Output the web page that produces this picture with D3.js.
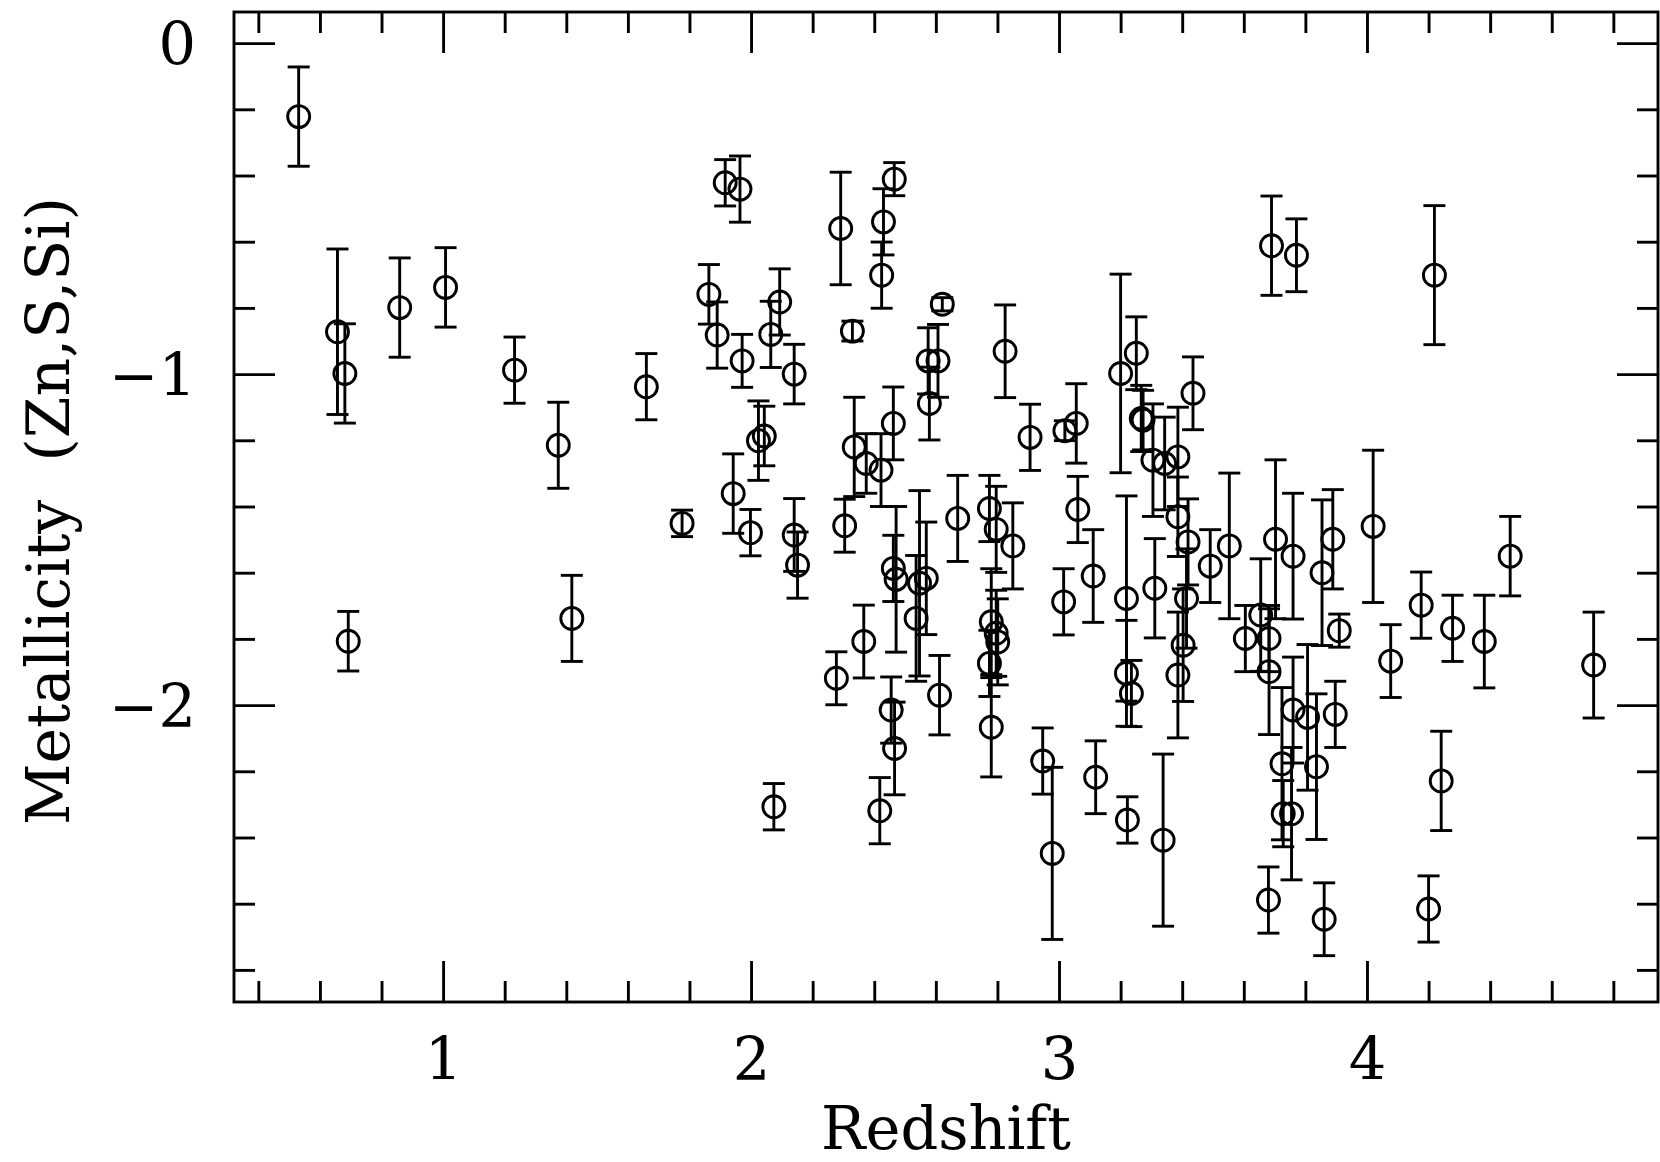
<!DOCTYPE html>
<html>
<head>
<meta charset="utf-8">
<script src="https://cdn.jsdelivr.net/npm/d3@7"></script>
<style>
  body { margin: 0; background: #fff; }
  svg { display: block; }
</style>
</head>
<body>
<div id="scatter"></div>
<script>
// Frame for the plot
var svgWidth = 1660;
var svgHeight = 1162;

var margin = { top: 12, right: 2, bottom: 160, left: 234 };
var width = svgWidth - margin.left - margin.right;
var height = svgHeight - margin.top - margin.bottom;

// Data: redshift, metallicity and its 1-sigma error
var redshift = [
  0.531, 0.657, 0.681, 0.692, 0.859, 1.008, 1.232, 1.374, 1.418, 1.660,
  1.776, 1.863, 1.890, 1.916, 1.964, 1.971, 1.942, 1.998, 2.024, 2.043,
  2.093, 2.064, 2.140, 2.140, 2.151, 2.074, 2.277, 2.291, 2.304, 2.329,
  2.335, 2.374, 2.422, 2.462, 2.366, 2.465, 2.430, 2.424, 2.418, 2.462,
  2.471, 2.455, 2.466, 2.547, 2.569, 2.536, 2.575, 2.607, 2.579, 2.621,
  2.612, 2.671, 2.774, 2.796, 2.780, 2.796, 2.801, 2.774, 2.780, 2.825,
  2.850, 2.906, 2.947, 2.978, 3.019, 3.056, 3.015, 3.061, 3.111, 3.119,
  3.200, 3.219, 3.219, 3.235, 3.222, 3.251, 3.267, 3.273, 3.305, 3.343,
  3.386, 3.338, 3.311, 3.386, 3.419, 3.414, 3.403, 3.386, 3.435, 3.491,
  3.553, 3.605, 3.703, 3.760, 3.889, 3.854, 3.655, 3.682, 3.682, 3.760,
  3.807, 3.897, 3.910, 3.724, 3.836, 3.728, 3.755, 3.680, 3.861, 3.690,
  3.771, 4.020, 4.077, 4.176, 4.278, 4.381, 4.465, 4.736, 4.219, 4.200,
  4.241
];
var metallicity = [
  -0.222, -0.872, -0.998, -1.807, -0.799, -0.738, -0.988, -1.215, -1.738, -1.038,
  -1.451, -0.759, -0.882, -0.422, -0.441, -0.960, -1.361, -1.479, -1.201, -1.187,
  -0.782, -0.880, -1.000, -1.486, -1.577, -2.307, -1.919, -0.560, -1.458, -0.870,
  -1.220, -1.270, -1.290, -1.149, -1.808, -0.411, -0.540, -0.701, -2.319, -1.587,
  -1.620, -2.015, -2.131, -1.632, -1.617, -1.738, -0.960, -0.960, -1.089, -0.789,
  -1.970, -1.436, -1.406, -1.469, -1.748, -1.783, -1.809, -1.874, -2.067, -0.931,
  -1.519, -1.191, -2.169, -2.448, -1.171, -1.149, -1.688, -1.409, -1.610, -2.218,
  -0.998, -1.678, -1.904, -1.965, -2.347, -0.937, -1.134, -1.139, -1.260, -1.270,
  -1.250, -2.408, -1.647, -1.431, -1.507, -1.678, -1.819, -1.909, -1.058, -1.580,
  -1.519, -1.799, -1.499, -1.550, -1.499, -1.600, -1.728, -1.799, -1.899, -2.015,
  -2.037, -2.028, -1.775, -2.177, -2.186, -2.328, -2.328, -2.589, -2.647, -0.612,
  -0.641, -1.460, -1.867, -1.698, -1.768, -1.808, -1.550, -1.879, -0.701, -2.616,
  -2.229
];
var metalErr = [
  0.15, 0.25, 0.15, 0.09, 0.15, 0.12, 0.10, 0.13, 0.13, 0.10,
  0.04, 0.09, 0.10, 0.07, 0.10, 0.08, 0.12, 0.07, 0.12, 0.09,
  0.10, 0.10, 0.09, 0.11, 0.10, 0.07, 0.08, 0.17, 0.08, 0.03,
  0.15, 0.09, 0.11, 0.11, 0.11, 0.05, 0.10, 0.10, 0.10, 0.10,
  0.22, 0.10, 0.14, 0.28, 0.17, 0.19, 0.10, 0.11, 0.11, 0.02,
  0.12, 0.13, 0.10, 0.13, 0.16, 0.13, 0.13, 0.10, 0.15, 0.14,
  0.13, 0.10, 0.10, 0.26, 0.03, 0.12, 0.10, 0.10, 0.14, 0.11,
  0.30, 0.31, 0.16, 0.10, 0.07, 0.11, 0.10, 0.09, 0.17, 0.14,
  0.15, 0.26, 0.15, 0.12, 0.13, 0.15, 0.17, 0.19, 0.11, 0.11,
  0.22, 0.10, 0.24, 0.19, 0.15, 0.22, 0.17, 0.10, 0.19, 0.16,
  0.22, 0.10, 0.05, 0.23, 0.22, 0.10, 0.20, 0.10, 0.11, 0.15,
  0.11, 0.23, 0.11, 0.10, 0.10, 0.14, 0.12, 0.16, 0.21, 0.10,
  0.15
];

// Axis ticks
var xMajor = [1, 2, 3, 4];
var yMajor = [0, -1, -2];
var xMinor = d3.range(0.4, 4.9, 0.2).filter(v => Math.abs(v - Math.round(v)) > 0.05);
var yMinor = d3.range(-0.2, -2.9, -0.2).filter(v => Math.abs(v - Math.round(v)) > 0.05);

var data = redshift.map((z, i) => ({ z: z, m: metallicity[i], e: metalErr[i] }));

var svg = d3.select("#scatter").append("svg")
  .attr("width", svgWidth)
  .attr("height", svgHeight)
  .style("font-family", "'DejaVu Serif', serif");

svg.append("rect").attr("width", svgWidth).attr("height", svgHeight).attr("fill", "#fff");

var chartGroup = svg.append("g")
  .attr("transform", `translate(${margin.left}, ${margin.top})`);

var xScale = d3.scaleLinear().domain([0.321, 4.945]).range([0, width]);
var yScale = d3.scaleLinear().domain([0.094, -2.897]).range([0, height]);

var lw = 2.9;
var bigTick = 41;
var smallTick = 21;

// draws one set of inward ticks with the given axis generator
function tickSet(axis, values, size, transform) {
  var g = chartGroup.append("g")
    .attr("transform", transform)
    .call(axis.tickValues(values).tickSize(-size).tickSizeOuter(0).tickFormat(""));
  g.select(".domain").remove();
  g.selectAll("line").attr("stroke", "#000").attr("stroke-width", lw);
  return g;
}

tickSet(d3.axisBottom(xScale), xMinor, smallTick, `translate(0, ${height})`);
tickSet(d3.axisTop(xScale), xMinor, smallTick, "translate(0, 0)");
tickSet(d3.axisLeft(yScale), yMinor, smallTick, "translate(0, 0)");
tickSet(d3.axisRight(yScale), yMinor, smallTick, `translate(${width}, 0)`);

tickSet(d3.axisTop(xScale), xMajor, bigTick, "translate(0, 0)");
tickSet(d3.axisRight(yScale), yMajor, bigTick, `translate(${width}, 0)`);

// bottom and left major ticks carry the labels
var xAxis = chartGroup.append("g")
  .attr("transform", `translate(0, ${height})`)
  .call(d3.axisBottom(xScale).tickValues(xMajor).tickSize(-bigTick).tickSizeOuter(0).tickFormat(d3.format("d")));
xAxis.select(".domain").remove();
xAxis.selectAll("line").attr("stroke", "#000").attr("stroke-width", lw);
xAxis.selectAll("text")
  .attr("y", 78).attr("dy", null)
  .attr("fill", "#000")
  .style("font-size", "59px")
  .style("font-family", "'DejaVu Serif', serif");

var yAxis = chartGroup.append("g")
  .call(d3.axisLeft(yScale).tickValues(yMajor).tickSize(-bigTick).tickSizeOuter(0)
    .tickFormat(d => d < 0 ? "\u2212" + Math.abs(d) : String(d)));
yAxis.select(".domain").remove();
yAxis.selectAll("line").attr("stroke", "#000").attr("stroke-width", lw);
yAxis.selectAll("text")
  .attr("x", -38).attr("dy", "0.37em")
  .attr("fill", "#000")
  .style("font-size", "59px")
  .style("font-family", "'DejaVu Serif', serif");

// frame
chartGroup.append("rect")
  .attr("width", width).attr("height", height)
  .attr("fill", "none").attr("stroke", "#000").attr("stroke-width", lw);

// error bars and open circles
var points = chartGroup.append("g").selectAll("g")
  .data(data).enter().append("g");

var capHalf = 11;

points.append("line")
  .attr("x1", d => xScale(d.z)).attr("x2", d => xScale(d.z))
  .attr("y1", d => yScale(d.m + d.e)).attr("y2", d => yScale(d.m - d.e))
  .attr("stroke", "#000").attr("stroke-width", lw);

points.append("line")
  .attr("x1", d => xScale(d.z) - capHalf).attr("x2", d => xScale(d.z) + capHalf)
  .attr("y1", d => yScale(d.m + d.e)).attr("y2", d => yScale(d.m + d.e))
  .attr("stroke", "#000").attr("stroke-width", lw);

points.append("line")
  .attr("x1", d => xScale(d.z) - capHalf).attr("x2", d => xScale(d.z) + capHalf)
  .attr("y1", d => yScale(d.m - d.e)).attr("y2", d => yScale(d.m - d.e))
  .attr("stroke", "#000").attr("stroke-width", lw);

points.append("circle")
  .attr("cx", d => xScale(d.z)).attr("cy", d => yScale(d.m))
  .attr("r", 11)
  .attr("fill", "none").attr("stroke", "#000").attr("stroke-width", lw);

// axis titles
svg.append("text")
  .attr("x", margin.left + width / 2)
  .attr("y", 1149)
  .attr("text-anchor", "middle")
  .style("font-size", "59px")
  .text("Redshift");

svg.append("text")
  .attr("transform", "rotate(-90)")
  .attr("x", -511)
  .attr("y", 69)
  .attr("text-anchor", "middle")
  .style("font-size", "60px")
  .style("white-space", "pre")
  .text("Metallicity  (Zn,S,Si)");
</script>
</body>
</html>
